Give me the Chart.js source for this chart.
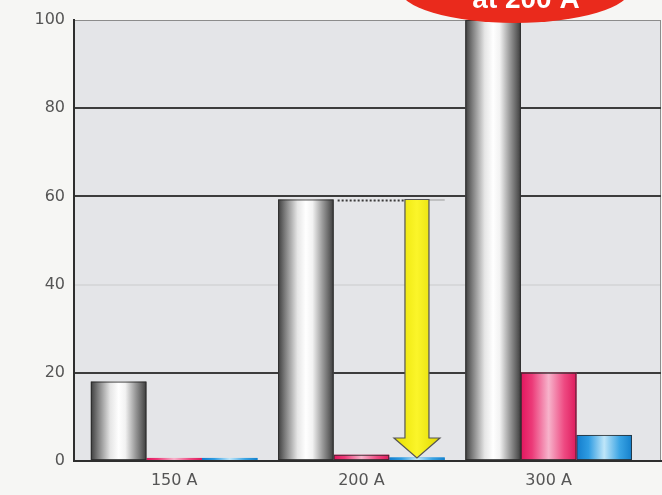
<!DOCTYPE html>
<html>
<head>
<meta charset="utf-8">
<script src="https://cdn.jsdelivr.net/npm/chart.js@4.4.1/dist/chart.umd.min.js"></script>
<style>
  html, body { margin: 0; padding: 0; background: #f6f6f4; }
  #wrap { width: 662px; height: 495px; }
</style>
</head>
<body>
<div id="wrap"><canvas id="chart" width="662" height="495"></canvas></div>
<script>
// Data
const categories = ['150 A', '200 A', '300 A'];
const categoryPos = [1, 2, 3];
const grayValues = [18, 59.3, 100];
const pinkValues = [0.7, 1.4, 20];
const blueValues = [0.7, 0.8, 5.9];
const yTicks = [0, 20, 40, 60, 80, 100];
const arrowFrom = 59.3;
const badgeText = 'at 200 A';

const gradientStops = {
    gray: [[0, '#3e3e3e'], [0.12, '#7a7a7a'], [0.35, '#e6e6e6'], [0.5, '#ffffff'], [0.62, '#f2f2f2'], [0.8, '#9a9a9a'], [0.93, '#5e5e5e'], [1, '#3c3c3c']],
    pink: [[0, '#e2165e'], [0.2, '#ec3a78'], [0.5, '#f7b3cb'], [0.78, '#ee4a82'], [1, '#de1a5c']],
    blue: [[0, '#127ccc'], [0.22, '#2f9ce2'], [0.5, '#bfe6f9'], [0.78, '#3aa4e4'], [1, '#1480cc']]
};

function toPoints(values) {
    return values.map((v, i) => ({ x: categoryPos[i], y: v }));
}

// Paint the cylinder style shading over each bar
const shadingPlugin = {
    id: 'shading',
    afterDatasetDraw(chart, args) {
        const key = chart.data.datasets[args.index].shade;
        if (!key) return;
        const c = chart.ctx;
        const area = chart.chartArea;
        c.save();
        c.beginPath();
        c.rect(area.left, area.top - 1, area.right - area.left, area.bottom - area.top + 1);
        c.clip();
        args.meta.data.forEach(el => {
            const p = el.getProps(['x', 'y', 'base', 'width'], true);
            const left = p.x - p.width / 2;
            const h = p.base - p.y;
            const g = c.createLinearGradient(left, 0, left + p.width, 0);
            gradientStops[key].forEach(s => g.addColorStop(s[0], s[1]));
            c.fillStyle = g;
            c.fillRect(left, p.y, p.width, h);
            if (h > 5) {
                c.strokeStyle = 'rgba(40,40,40,0.8)';
                c.lineWidth = 1;
                c.strokeRect(left + 0.5, p.y + 0.5, p.width - 1, h - 1);
            }
        });
        c.restore();
    },
    afterDatasetsDraw(chart) {
        const c = chart.ctx;
        const y = chart.scales.y;
        const pinkBar = chart.getDatasetMeta(1).data[1];
        const blueBar = chart.getDatasetMeta(2).data[1];
        const top = y.getPixelForValue(arrowFrom);
        const tip = y.getPixelForValue(0) - 3;
        const cx = blueBar.x;

        // dotted level line
        c.save();
        c.strokeStyle = '#3a3a3a';
        c.lineWidth = 2;
        c.setLineDash([2, 2]);
        c.beginPath();
        c.moveTo(pinkBar.x - pinkBar.width / 2 + 4, top + 1);
        c.lineTo(cx - 12, top + 1);
        c.stroke();
        c.setLineDash([]);
        c.strokeStyle = '#9a9a9a';
        c.lineWidth = 1;
        c.beginPath();
        c.moveTo(cx + 12, top + 0.5);
        c.lineTo(blueBar.x + blueBar.width / 2, top + 0.5);
        c.stroke();

        // yellow arrow
        const shaft = 12, head = 23, headH = 20;
        c.beginPath();
        c.moveTo(cx - shaft, top);
        c.lineTo(cx + shaft, top);
        c.lineTo(cx + shaft, tip - headH);
        c.lineTo(cx + head, tip - headH);
        c.lineTo(cx, tip);
        c.lineTo(cx - head, tip - headH);
        c.lineTo(cx - shaft, tip - headH);
        c.closePath();
        const g = c.createLinearGradient(cx - head, 0, cx + head, 0);
        g.addColorStop(0, '#e8e000');
        g.addColorStop(0.5, '#fbf52a');
        g.addColorStop(1, '#e0d800');
        c.fillStyle = g;
        c.fill();
        c.strokeStyle = '#555';
        c.lineWidth = 1.2;
        c.stroke();
        c.restore();
    },
    afterDraw(chart) {
        // red badge cut off at the top edge
        const c = chart.ctx;
        c.save();
        c.beginPath();
        c.ellipse(515, -12, 116, 35, 0, 0, Math.PI * 2);
        c.fillStyle = '#ea2a1c';
        c.fill();
        c.fillStyle = '#ffffff';
        c.font = 'bold 28px "Liberation Sans", Arial, sans-serif';
        c.textAlign = 'center';
        c.textBaseline = 'alphabetic';
        c.fillText(badgeText, 526, 8);
        c.restore();
    }
};

// Plot background extends over the whole chart area
const backgroundPlugin = {
    id: 'plotBg',
    beforeDraw(chart) {
        const a = chart.chartArea;
        const c = chart.ctx;
        c.save();
        c.fillStyle = '#e4e5e8';
        c.fillRect(a.left, a.top, a.right - a.left, a.bottom - a.top);
        c.strokeStyle = '#8c8c8c';
        c.lineWidth = 1;
        c.strokeRect(a.left + 0.5, a.top + 0.5, a.right - a.left - 1, a.bottom - a.top);
        c.restore();
    }
};

const tickFont = { family: '"DejaVu Sans", sans-serif', size: 16 };

new Chart(document.getElementById('chart'), {
    type: 'bar',
    data: {
        datasets: [
            { label: 'gray', data: toPoints(grayValues), backgroundColor: '#b0b0b0', shade: 'gray' },
            { label: 'pink', data: toPoints(pinkValues), backgroundColor: '#ee4a80', shade: 'pink' },
            { label: 'blue', data: toPoints(blueValues), backgroundColor: '#3aa0e0', shade: 'blue' }
        ]
    },
    options: {
        responsive: false,
        animation: false,
        categoryPercentage: 0.89,
        barPercentage: 1,
        layout: { padding: { top: 20, right: 1, left: 0, bottom: 0 } },
        plugins: {
            legend: { display: false },
            tooltip: { enabled: false }
        },
        scales: {
            x: {
                type: 'linear',
                min: 0.465,
                max: 3.6,
                offset: false,
                afterBuildTicks: scale => { scale.ticks = categoryPos.map(v => ({ value: v })); },
                afterFit: scale => { scale.height = 34; },
                grid: { display: false, drawTicks: false },
                border: { color: '#2e2e2e', width: 2 },
                ticks: {
                    color: '#555555',
                    padding: 10,
                    font: tickFont,
                    callback: v => categories[categoryPos.indexOf(v)] || ''
                }
            },
            y: {
                min: 0,
                max: 100,
                afterBuildTicks: scale => { scale.ticks = yTicks.map(v => ({ value: v })); },
                afterFit: scale => { scale.width = 74; },
                grid: {
                    drawTicks: false,
                    lineWidth: 2,
                    color: ctx => {
                        const v = ctx.tick.value;
                        if (v === 40) return 'rgba(120,120,120,0.12)';
                        if (v === 0 || v === 100) return 'rgba(0,0,0,0)';
                        return '#3c3c3c';
                    }
                },
                border: { color: '#2e2e2e', width: 2 },
                ticks: {
                    color: '#555555',
                    padding: 9,
                    font: tickFont
                }
            }
        }
    },
    plugins: [backgroundPlugin, shadingPlugin]
});
</script>
</body>
</html>
